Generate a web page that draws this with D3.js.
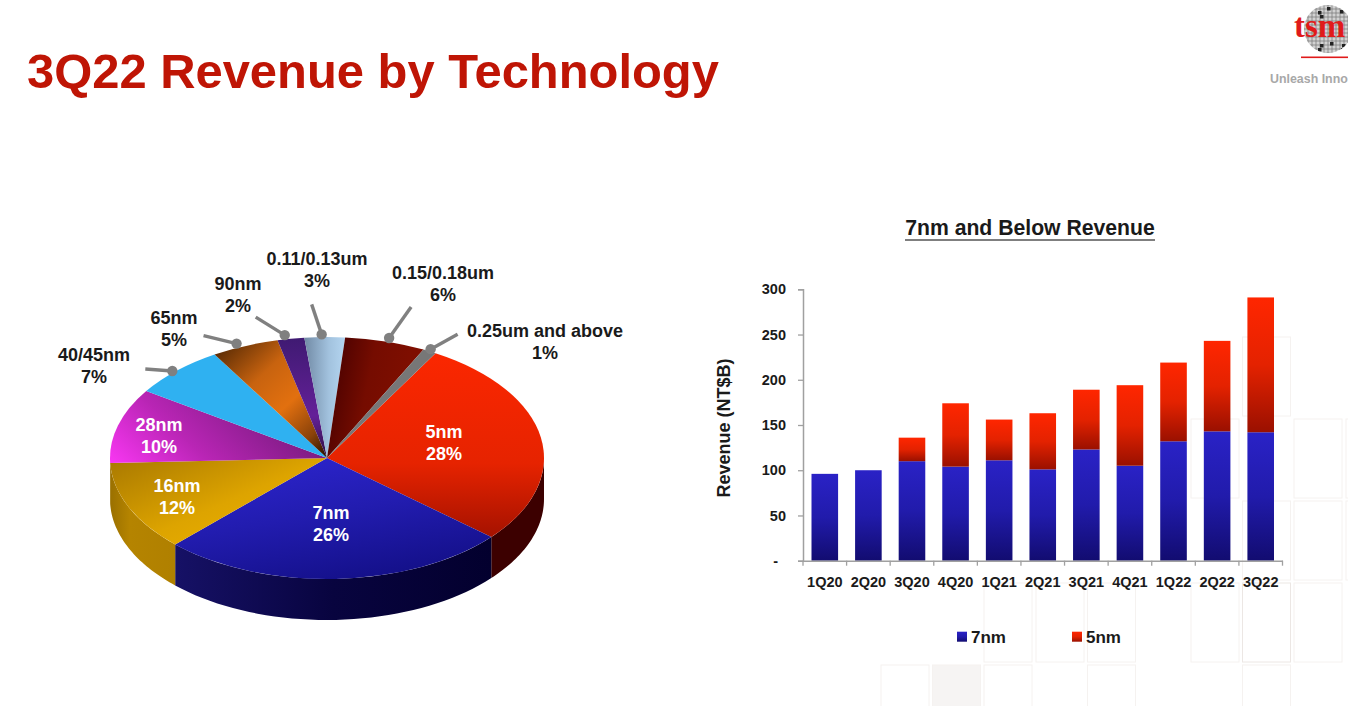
<!DOCTYPE html>
<html>
<head>
<meta charset="utf-8">
<title>3Q22 Revenue by Technology</title>
<script src="https://cdn.jsdelivr.net/npm/d3@7"></script>
<style>
    body { margin: 0; background: #fff; overflow: hidden; }
    svg { display: block; font-family: "Liberation Sans", Arial, sans-serif; font-weight: bold; }
</style>
</head>
<body>
<div id="chart"></div>
<script>
// Pie data, clockwise from the 5nm slice
const techNames = ['5nm', '7nm', '16nm', '28nm', '40/45nm', '65nm', '90nm', '0.11/0.13um', '0.15/0.18um', '0.25um and above'];
const techShares = [28, 26, 12, 10, 7, 5, 2, 3, 6, 1];

// Bar data (NT$B)
const quarters = ['1Q20', '2Q20', '3Q20', '4Q20', '1Q21', '2Q21', '3Q21', '4Q21', '1Q22', '2Q22', '3Q22'];
const rev7nm = [96, 100, 110, 104, 111, 101, 123, 105, 132, 143, 142];
const rev5nm = [0, 0, 26, 70, 45, 62, 66, 89, 87, 100, 149];
const revTicks = [0, 50, 100, 150, 200, 250, 300];

const svg = d3.select('#chart').append('svg')
    .attr('width', 1348)
    .attr('height', 706);
const defs = svg.append('defs');

function addGradient(id, dir, stops) {
    const g = defs.append('linearGradient').attr('id', id)
        .attr('x1', dir[0]).attr('y1', dir[1]).attr('x2', dir[2]).attr('y2', dir[3]);
    stops.forEach(s => g.append('stop').attr('offset', s[0]).attr('stop-color', s[1]));
}

// background tiles of the slide template
const tileXs = [881, 932.5, 984, 1036, 1087.5, 1139, 1191, 1242.5, 1294, 1346];
const tileYs = [337, 419, 501, 583, 665];
const tiles = [[7, 0], [6, 1], [8, 1], [9, 1], [7, 2], [8, 2], [9, 2], [2, 3], [3, 3], [4, 3], [6, 3], [7, 3], [8, 3], [0, 4], [1, 4], [2, 4], [4, 4], [7, 4]];
svg.append('g').selectAll('rect')
    .data(tiles)
    .join('rect')
    .attr('x', d => tileXs[d[0]])
    .attr('y', d => tileYs[d[1]])
    .attr('width', 48)
    .attr('height', 79)
    .attr('fill', d => (d[0] === 1 ? '#f6f4f3' : '#fff'))
    .attr('stroke', d => (d[0] === 7 && d[1] === 3 ? '#ece7e4' : '#f5f2f0'))
    .attr('stroke-width', 1);

// title
svg.append('text')
    .attr('x', 27)
    .attr('y', 88)
    .attr('fill', '#bf1505')
    .attr('font-size', 48.9)
    .text('3Q22 Revenue by Technology');

// logo, runs off the right edge like in the slide
const logo = svg.append('g');
const logoClip = defs.append('clipPath').attr('id', 'wafer');
logoClip.append('circle').attr('cx', 1328).attr('cy', 29).attr('r', 24);
const wafer = logo.append('g').attr('clip-path', 'url(#wafer)');
wafer.append('circle').attr('cx', 1328).attr('cy', 29).attr('r', 24).attr('fill', '#d2d2d2');
const waferLines = d3.range(1304, 1353, 4);
wafer.selectAll('.vline').data(waferLines).join('line').attr('class', 'vline')
    .attr('x1', d => d).attr('x2', d => d).attr('y1', 5).attr('y2', 53)
    .attr('stroke', '#777').attr('stroke-width', 0.7);
wafer.selectAll('.hline').data(d3.range(5, 54, 4)).join('line').attr('class', 'hline')
    .attr('y1', d => d).attr('y2', d => d).attr('x1', 1304).attr('x2', 1352)
    .attr('stroke', '#777').attr('stroke-width', 0.7);
const waferDies = [[1318, 11], [1327, 7], [1320, 15], [1340, 10], [1320, 44], [1318, 48], [1330, 42], [1342, 44], [1341, 48]];
wafer.selectAll('.die').data(waferDies).join('rect').attr('class', 'die')
    .attr('x', d => d[0]).attr('y', d => d[1]).attr('width', 3.5).attr('height', 3.5).attr('fill', '#222');
logo.append('text')
    .attr('x', 1294)
    .attr('y', 37)
    .attr('fill', '#e01a1a')
    .attr('font-family', '"Liberation Serif", serif')
    .attr('font-size', 33)
    .text('tsm');
logo.append('rect').attr('x', 1301).attr('y', 56.5).attr('width', 47).attr('height', 1.6).attr('fill', '#e01a1a');
logo.append('text')
    .attr('x', 1270)
    .attr('y', 83)
    .attr('fill', '#a8a8a8')
    .attr('font-size', 12.4)
    .text('Unleash Inno');

// ---------- pie ----------
const pieX = 327;
const pieY = 458;
const pieRx = 217;
const pieRy = 121;
const pieDepth = 41;

addGradient('s0', [0.5, 0, 0.5, 1], [[0, '#fb2700'], [0.6, '#e62300'], [1, '#a51200']]);
addGradient('s1', [0.15, 0, 0.6, 1], [[0, '#2d25cf'], [0.5, '#221caf'], [1, '#14108a']]);
addGradient('s2', [0, 0, 1, 0.9], [[0, '#a87800'], [0.55, '#dda400'], [1, '#efb200']]);
addGradient('s3', [0, 0.95, 1, 0.6], [[0, '#f636f0'], [0.4, '#b925b5'], [1, '#701a78']]);
addGradient('s4', [0, 0, 1, 0], [[0, '#2fb1f1'], [1, '#2fb1f1']]);
addGradient('s5', [0.05, 0, 0.95, 1], [[0, '#4f2604'], [0.35, '#c8630f'], [0.6, '#e2700f'], [0.85, '#8a420a'], [1, '#2e1400']]);
addGradient('s6', [0.5, 0, 0.5, 1], [[0, '#3f1a72'], [0.65, '#642098'], [1, '#2c1040']]);
addGradient('s7', [0, 0, 1, 0], [[0, '#718aa5'], [0.6, '#a2c2de'], [1, '#b4d5f0']]);
addGradient('s8', [0, 0.2, 0.8, 0.4], [[0, '#450000'], [0.55, '#750c00'], [1, '#7e0e00']]);
addGradient('s9', [0, 0, 1, 0], [[0, '#777'], [1, '#777']]);
addGradient('side0', [0, 0, 1, 0], [[0, '#3c0000'], [1, '#3c0000']]);
addGradient('side1', [0, 0, 1, 0], [[0, '#161166'], [0.5, '#08043f'], [1, '#03002e']]);
addGradient('side2', [0, 0, 1, 0], [[0, '#9a7000'], [0.3, '#b58400'], [1, '#b08000']]);
addGradient('side3', [0, 0, 1, 0], [[0, '#9a7000'], [1, '#9a7000']]);

const pieData = d3.pie()
    .value(d => d)
    .sort(null)
    .startAngle(30 * Math.PI / 180)
    .endAngle(390 * Math.PI / 180)(techShares);

function rimPoint(angle, k) {
    return [pieX + pieRx * k * Math.sin(angle), pieY - pieRy * k * Math.cos(angle)];
}

// side wall only shows on the front half of the ellipse
const sideLine = d3.line();
const pieGroup = svg.append('g');
pieData.forEach((d, i) => {
    const a0 = Math.max(d.startAngle, Math.PI / 2);
    const a1 = Math.min(d.endAngle, Math.PI * 1.5);
    if (a1 <= a0) return;
    const rim = d3.range(0, 41).map(j => rimPoint(a0 + (a1 - a0) * j / 40, 1));
    const lower = rim.map(p => [p[0], p[1] + pieDepth]).reverse();
    pieGroup.append('path')
        .attr('d', sideLine(rim.concat(lower)) + 'Z')
        .attr('fill', `url(#side${i})`);
});

const arc = d3.arc().innerRadius(0).outerRadius(pieRx);
pieGroup.append('g')
    .attr('transform', `translate(${pieX},${pieY}) scale(1,${pieRy / pieRx})`)
    .selectAll('path')
    .data(pieData)
    .join('path')
    .attr('d', arc)
    .attr('fill', (d, i) => `url(#s${i})`);

// label centres, [x, y of first line]
const pieLabelPos = [[444, 432], [331, 513], [177, 486], [159, 425], [94, 355], [174, 318], [238, 284], [317, 259], [443, 273], [545, 331]];
// free end of the leader line relative to its dot, and a nudge of the dot off the rim
const leaderEnds = [null, null, null, null, [-27, -2], [-33, -8], [-29, -18], [-10, -30], [22, -31], [27, -15]];
const dotNudges = [null, null, null, null, [0, 3], [-6, 1], [-5, 0], [-3, 1], [2, 0], [-2, 1]];

const leaders = pieData.map((d, i) => ({ d, end: leaderEnds[i], nudge: dotNudges[i] })).filter(l => l.end);
leaders.forEach(l => {
    const p = rimPoint((l.d.startAngle + l.d.endAngle) / 2, 1.03);
    l.p = [p[0] + l.nudge[0], p[1] + l.nudge[1]];
});
const leaderGroup = svg.append('g');
leaderGroup.selectAll('line')
    .data(leaders)
    .join('line')
    .attr('x1', l => l.p[0])
    .attr('y1', l => l.p[1])
    .attr('x2', l => l.p[0] + l.end[0])
    .attr('y2', l => l.p[1] + l.end[1])
    .attr('stroke', '#808080')
    .attr('stroke-width', 3.4);
leaderGroup.selectAll('circle')
    .data(leaders)
    .join('circle')
    .attr('cx', l => l.p[0])
    .attr('cy', l => l.p[1])
    .attr('r', 5.2)
    .attr('fill', '#808080');

const pieLabels = svg.append('g')
    .attr('text-anchor', 'middle')
    .attr('font-size', 18)
    .selectAll('text')
    .data(techNames)
    .join('text')
    .attr('fill', (d, i) => (i < 4 ? '#fff' : '#1a1a1a'))
    .attr('transform', (d, i) => `translate(${pieLabelPos[i][0]},${pieLabelPos[i][1] + 6})`);
pieLabels.append('tspan').attr('x', 0).attr('y', 0).text(d => d);
pieLabels.append('tspan').attr('x', 0).attr('y', 22).text((d, i) => techShares[i] + '%');

// ---------- stacked bars ----------
addGradient('barBlue', [0, 0, 0, 1], [[0, '#2a22c6'], [0.5, '#211bab'], [1, '#120c70']]);
addGradient('barRed', [0, 0, 0, 1], [[0, '#ff2600'], [0.5, '#e42200'], [1, '#9a1000']]);

const x = d3.scaleBand().domain(quarters).range([803, 1282.5]).paddingInner(0.39).paddingOuter(0.195);
const y = d3.scaleLinear().domain([0, 300]).range([560.7, 289.3]);

const rows = quarters.map((q, i) => ({ q, n7: rev7nm[i], n5: rev5nm[i] }));
const stacked = d3.stack().keys(['n7', 'n5'])(rows);
const barFill = { n7: 'url(#barBlue)', n5: 'url(#barRed)' };

svg.append('g').selectAll('g')
    .data(stacked)
    .join('g')
    .attr('fill', d => barFill[d.key])
    .selectAll('rect')
    .data(d => d.filter(v => v[1] > v[0]))
    .join('rect')
    .attr('x', d => x(d.data.q))
    .attr('y', d => y(d[1]))
    .attr('width', x.bandwidth())
    .attr('height', d => y(d[0]) - y(d[1]));

const yAxis = svg.append('g')
    .attr('transform', 'translate(803,0)')
    .call(d3.axisLeft(y).tickValues(revTicks).tickSize(5).tickPadding(12).tickFormat(d => (d === 0 ? '-' : d)));
yAxis.selectAll('.tick').filter(d => d === 0).select('text').attr('dx', -8);

const xAxis = svg.append('g')
    .attr('transform', 'translate(0,560.7)')
    .call(d3.axisBottom(x).tickSize(0).tickPadding(16));
// ticks sit between the categories
xAxis.selectAll('.tickMark')
    .data(d3.range(quarters.length + 1))
    .join('line')
    .attr('class', 'tickMark')
    .attr('x1', i => 803 + i * x.step())
    .attr('x2', i => 803 + i * x.step())
    .attr('y2', 5)
    .attr('stroke', '#a0a0a0')
    .attr('stroke-width', 1.3);

svg.selectAll('.domain').attr('stroke', '#a0a0a0').attr('stroke-width', 1.5);
yAxis.selectAll('.tick line').attr('stroke', '#a0a0a0').attr('stroke-width', 1.3);
svg.selectAll('.tick text')
    .attr('font-family', '"Liberation Sans", Arial, sans-serif')
    .attr('font-weight', 'bold')
    .attr('font-size', 14.5)
    .attr('fill', '#1a1a1a');

svg.append('text')
    .attr('transform', 'translate(730,428) rotate(-90)')
    .attr('text-anchor', 'middle')
    .attr('font-size', 18)
    .attr('fill', '#1a1a1a')
    .text('Revenue (NT$B)');

svg.append('text')
    .attr('x', 1030)
    .attr('y', 235)
    .attr('text-anchor', 'middle')
    .attr('font-size', 21.2)
    .attr('fill', '#1a1a1a')
    .text('7nm and Below Revenue');
svg.append('line')
    .attr('x1', 905).attr('x2', 1155)
    .attr('y1', 240).attr('y2', 240)
    .attr('stroke', '#555')
    .attr('stroke-width', 1.5);

// legend
const legendNames = ['7nm', '5nm'];
const legendXs = [957, 1072];
const legend = svg.append('g').selectAll('g')
    .data(legendNames)
    .join('g')
    .attr('transform', (d, i) => `translate(${legendXs[i]},631.7)`);
legend.append('rect')
    .attr('width', 10)
    .attr('height', 10)
    .attr('fill', (d, i) => (i === 0 ? 'url(#barBlue)' : 'url(#barRed)'));
legend.append('text')
    .attr('x', 14)
    .attr('y', 11)
    .attr('font-size', 17)
    .attr('fill', '#1a1a1a')
    .text(d => d);
</script>
</body>
</html>
